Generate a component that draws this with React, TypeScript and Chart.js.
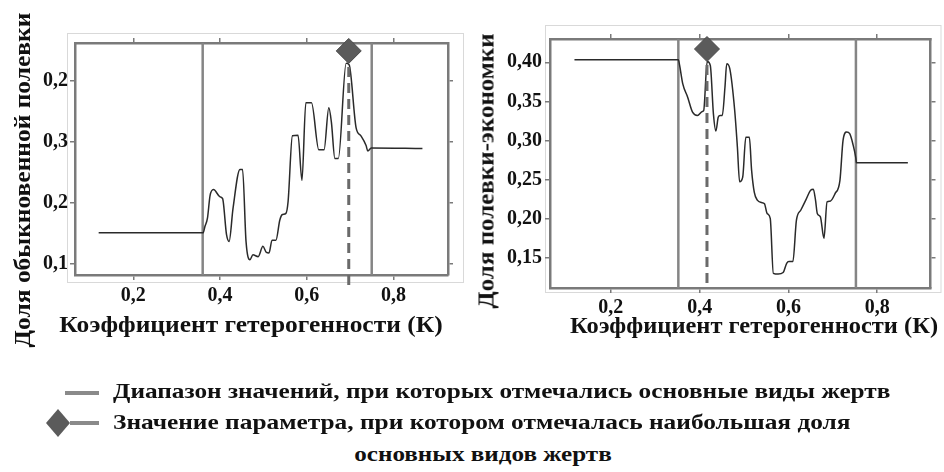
import React, { useEffect, useLayoutEffect, useRef } from 'react';
import { Chart, registerables } from 'chart.js';

Chart.register(...registerables);

// ---------- data ----------
const xTickValues = [0.2, 0.4, 0.6, 0.8];
const xTickLabels = ['0,2', '0,4', '0,6', '0,8'];

const leftYTickValues = [0.1, 0.2, 0.3, 0.4];
const leftYTickLabels = ['0,1', '0,2', '0,3', '0,2'];

const rightYTickValues = [0.15, 0.2, 0.25, 0.3, 0.35, 0.4];
const rightYTickLabels = ['0,15', '0,20', '0,25', '0,30', '0,35', '0,40'];

const leftK = [
  0.12, 0.361, 0.365, 0.371, 0.377, 0.385, 0.4, 0.406, 0.415, 0.421, 0.43, 0.446, 0.452, 0.46,
  0.469, 0.476, 0.488, 0.499, 0.507, 0.513, 0.52, 0.529, 0.538, 0.544, 0.552, 0.557, 0.567,
  0.58, 0.589, 0.598, 0.611, 0.628, 0.64, 0.651, 0.657, 0.665, 0.673, 0.691, 0.698, 0.714,
  0.725, 0.737, 0.741, 0.749, 0.867,
];
const leftShare = [
  0.151, 0.151, 0.161, 0.175, 0.212, 0.222, 0.21, 0.207, 0.148, 0.137, 0.191, 0.255, 0.255,
  0.137, 0.107, 0.115, 0.112, 0.129, 0.119, 0.118, 0.139, 0.139, 0.172, 0.181, 0.183, 0.202,
  0.31, 0.311, 0.237, 0.364, 0.364, 0.287, 0.287, 0.356, 0.332, 0.273, 0.273, 0.429, 0.426,
  0.323, 0.31, 0.294, 0.285, 0.29, 0.289,
];
const leftRange = [0.36, 0.75];
const leftPeak = { k: 0.697, share: 0.449, dashEnd: 0.0625 };

const rightK = [
  0.118, 0.352, 0.355, 0.362, 0.373, 0.384, 0.395, 0.406, 0.409, 0.417, 0.424, 0.431, 0.4365,
  0.442, 0.446, 0.451, 0.457, 0.461, 0.468, 0.479, 0.485, 0.49, 0.497, 0.504, 0.512, 0.517,
  0.523, 0.53, 0.539, 0.546, 0.552, 0.559, 0.566, 0.577, 0.588, 0.596, 0.601, 0.61, 0.618,
  0.628, 0.639, 0.65, 0.656, 0.661, 0.665, 0.672, 0.68, 0.687, 0.694, 0.705, 0.716, 0.723,
  0.731, 0.738, 0.745, 0.752, 0.753, 0.869,
];
const rightShare = [
  0.4034, 0.4034, 0.3957, 0.3724, 0.3554, 0.3362, 0.332, 0.337, 0.338, 0.401, 0.396, 0.334,
  0.312, 0.33, 0.332, 0.332, 0.368, 0.398, 0.3915, 0.338, 0.2916, 0.247, 0.253, 0.304, 0.304,
  0.262, 0.234, 0.2236, 0.2206, 0.219, 0.2066, 0.2002, 0.13, 0.129, 0.131, 0.1428, 0.145,
  0.145, 0.198, 0.211, 0.2236, 0.2363, 0.2376, 0.2236, 0.2066, 0.2023, 0.1747, 0.2214,
  0.2223, 0.232, 0.249, 0.3, 0.3107, 0.3086, 0.2958, 0.2767, 0.2716, 0.2716,
];
const rightRange = [0.352, 0.752];
const rightPeak = { k: 0.4165, share: 0.417, dashEnd: 0.1176 };

const xTitle = 'Коэффициент гетерогенности (К)';
const leftYTitle = 'Доля обыкновенной полевки';
const rightYTitle = 'Доля полевки-экономки';
const legendRange = 'Диапазон значений, при которых отмечались основные виды жертв';
const legendPeak1 = 'Значение параметра, при котором отмечалась наибольшая доля';
const legendPeak2 = 'основных видов жертв';

// ---------- styles ----------
const FONT = "'Liberation Serif', 'DejaVu Serif', serif";
const TEXT = '#111';
const FRAME = '#7a7a7a';

type PanelCfg = {
  k: number[];
  share: number[];
  range: number[];
  peak: { k: number; share: number; dashEnd: number };
  xMin: number;
  xMax: number;
  yMin: number;
  yMax: number;
  yTicks: number[];
  yLabels: string[];
  leftW: number;
  rightW: number;
  topH: number;
  bottomH: number;
  tickPadY: number;
  tickPadX: number;
  box: { l: number; t: number; r: number; b: number };
};

const outerBox = {
  id: 'outerBox',
  beforeDraw(chart: any, _args: any, opts: any) {
    const { ctx, chartArea: a } = chart;
    ctx.save();
    ctx.strokeStyle = '#d9d9d9';
    ctx.lineWidth = 1;
    ctx.strokeRect(
      Math.round(a.left + opts.l) + 0.5,
      Math.round(a.top + opts.t) + 0.5,
      a.right + opts.r - (a.left + opts.l),
      a.bottom + opts.b - (a.top + opts.t)
    );
    ctx.restore();
  },
};

function buildConfig(c: PanelCfg): any {
  const tickFont = { family: FONT, size: 20, weight: 'bold' as const };
  const grid = {
    display: true,
    drawOnChartArea: false,
    drawTicks: true,
    tickLength: 5,
    color: FRAME,
    lineWidth: 1.5,
  };
  const border = { display: true, color: FRAME, width: 2.5 };
  const setX = (s: any) => {
    s.ticks = xTickValues.map((v) => ({ value: v }));
  };
  const setY = (s: any) => {
    s.ticks = c.yTicks.map((v) => ({ value: v }));
  };
  const mainData = c.k.map((k, i) => ({ x: k, y: c.share[i] }));
  const vLine = (x: number) => [
    { x, y: c.yMin },
    { x, y: c.yMax },
  ];
  return {
    type: 'line',
    data: {
      datasets: [
        {
          data: [{ x: c.peak.k, y: c.peak.share }],
          showLine: false,
          pointStyle: 'rectRot',
          pointRadius: 12.5,
          backgroundColor: '#5b5b5b',
          borderColor: '#4a4a4a',
          borderWidth: 1,
          clip: false,
          xAxisID: 'x',
          yAxisID: 'y',
        },
        {
          data: [
            { x: c.peak.k, y: c.peak.share },
            { x: c.peak.k, y: c.peak.dashEnd },
          ],
          borderColor: '#6a6a6a',
          borderWidth: 3,
          borderDash: [10, 6],
          pointRadius: 0,
          clip: false,
          xAxisID: 'x',
          yAxisID: 'y',
        },
        {
          data: mainData,
          borderColor: '#2a2a2a',
          borderWidth: 1.5,
          pointRadius: 0,
          cubicInterpolationMode: 'monotone',
          xAxisID: 'x',
          yAxisID: 'y',
        },
        {
          data: vLine(c.range[0]),
          borderColor: '#858585',
          borderWidth: 2.5,
          pointRadius: 0,
          xAxisID: 'x',
          yAxisID: 'y',
        },
        {
          data: vLine(c.range[1]),
          borderColor: '#858585',
          borderWidth: 2.5,
          pointRadius: 0,
          xAxisID: 'x',
          yAxisID: 'y',
        },
      ],
    },
    options: {
      animation: false,
      responsive: false,
      maintainAspectRatio: false,
      layout: { padding: 0 },
      plugins: {
        legend: { display: false },
        tooltip: { enabled: false },
        outerBox: c.box,
      },
      scales: {
        x: {
          type: 'linear',
          position: 'bottom',
          min: c.xMin,
          max: c.xMax,
          afterBuildTicks: setX,
          afterFit: (s: any) => {
            s.height = c.bottomH;
          },
          ticks: {
            callback: (_v: any, i: number) => xTickLabels[i],
            font: tickFont,
            color: TEXT,
            padding: c.tickPadX,
            maxRotation: 0,
            autoSkip: false,
          },
          grid,
          border,
        },
        x2: {
          type: 'linear',
          position: 'top',
          min: c.xMin,
          max: c.xMax,
          afterBuildTicks: setX,
          afterFit: (s: any) => {
            s.height = c.topH;
          },
          ticks: { display: false },
          grid,
          border,
        },
        y: {
          type: 'linear',
          position: 'left',
          min: c.yMin,
          max: c.yMax,
          afterBuildTicks: setY,
          afterFit: (s: any) => {
            s.width = c.leftW;
          },
          ticks: {
            callback: (_v: any, i: number) => c.yLabels[i],
            font: tickFont,
            color: TEXT,
            padding: c.tickPadY,
            autoSkip: false,
          },
          grid,
          border,
        },
        y2: {
          type: 'linear',
          position: 'right',
          min: c.yMin,
          max: c.yMax,
          afterBuildTicks: setY,
          afterFit: (s: any) => {
            s.width = c.rightW;
          },
          ticks: { display: false },
          grid,
          border,
        },
      },
    },
    plugins: [outerBox],
  };
}

function Panel({ cfg, left, width, height }: { cfg: PanelCfg; left: number; width: number; height: number }) {
  const ref = useRef<HTMLCanvasElement>(null);
  useEffect(() => {
    if (!ref.current) return;
    const chart = new Chart(ref.current, buildConfig(cfg));
    return () => chart.destroy();
  }, []);
  return (
    <canvas
      ref={ref}
      width={width}
      height={height}
      style={{ position: 'absolute', left, top: 0, width, height }}
    />
  );
}

const leftCfg: PanelCfg = {
  k: leftK,
  share: leftShare,
  range: leftRange,
  peak: leftPeak,
  xMin: 0.0654,
  xMax: 0.926,
  yMin: 0.082,
  yMax: 0.462,
  yTicks: leftYTickValues,
  yLabels: leftYTickLabels,
  leftW: 75,
  rightW: 22,
  topH: 43,
  bottomH: 70,
  tickPadY: 2,
  tickPadX: 4,
  box: { l: -8, t: -10, r: 15, b: 7 },
};

const rightCfg: PanelCfg = {
  k: rightK,
  share: rightShare,
  range: rightRange,
  peak: rightPeak,
  xMin: 0.0629,
  xMax: 0.92,
  yMin: 0.1112,
  yMax: 0.4298,
  yTicks: rightYTickValues,
  yLabels: rightYTickLabels,
  leftW: 80,
  rightW: 2,
  topH: 39,
  bottomH: 57,
  tickPadY: 3,
  tickPadX: 3,
  box: { l: -5, t: -14, r: 10, b: 4 },
};

// Text stretched horizontally to a target width (the reference text is wide).
function FitText({
  text,
  width,
  size,
  cx,
  cy,
  rotate = 0,
  origin = 'center',
}: {
  text: string;
  width: number;
  size: number;
  cx: number;
  cy: number;
  rotate?: number;
  origin?: 'center' | 'left';
}) {
  const ref = useRef<HTMLSpanElement>(null);
  useLayoutEffect(() => {
    const el = ref.current;
    if (!el) return;
    const w = el.offsetWidth;
    if (w > 0) el.style.transform = `scaleX(${width / w})`;
  }, []);
  const outer: React.CSSProperties = {
    position: 'absolute',
    left: cx,
    top: cy,
    transform:
      origin === 'center'
        ? `translate(-50%, -50%) rotate(${rotate}deg)`
        : 'translate(0, -50%)',
    whiteSpace: 'nowrap',
    lineHeight: `${size}px`,
  };
  return (
    <div style={outer}>
      <span
        ref={ref}
        style={{
          display: 'inline-block',
          fontFamily: FONT,
          fontWeight: 'bold',
          fontSize: size,
          color: TEXT,
          transformOrigin: origin === 'center' ? 'center' : 'left center',
        }}
      >
        {text}
      </span>
    </div>
  );
}

export default function App() {
  return (
    <div
      style={{
        position: 'fixed',
        left: 0,
        top: 0,
        width: 944,
        height: 472,
        background: '#fff',
        overflow: 'hidden',
      }}
    >
      <Panel cfg={leftCfg} left={0} width={470} height={345} />
      <Panel cfg={rightCfg} left={470} width={474} height={345} />

      <FitText text={xTitle} width={383} size={24} cx={251} cy={325} />
      <FitText text={xTitle} width={368} size={23} cx={754} cy={326} />
      <FitText text={leftYTitle} width={335} size={24} cx={23} cy={180} rotate={-90} />
      <FitText text={rightYTitle} width={275} size={24} cx={487} cy={171} rotate={-90} />

      <svg width={120} height={472} style={{ position: 'absolute', left: 0, top: 0 }}>
        <line x1={65} y1={393} x2={99} y2={393} stroke="#8a8a8a" strokeWidth={4} />
        <line x1={70} y1={423} x2={99} y2={423} stroke="#8a8a8a" strokeWidth={4} />
        <polygon points="58,409 70,423 58,437 46,423" fill="#5b5b5b" />
      </svg>
      <FitText text={legendRange} width={777} size={21} cx={113} cy={392} origin="left" />
      <FitText text={legendPeak1} width={737} size={21} cx={113} cy={423} origin="left" />
      <FitText text={legendPeak2} width={257} size={21} cx={483} cy={455} />
    </div>
  );
}
